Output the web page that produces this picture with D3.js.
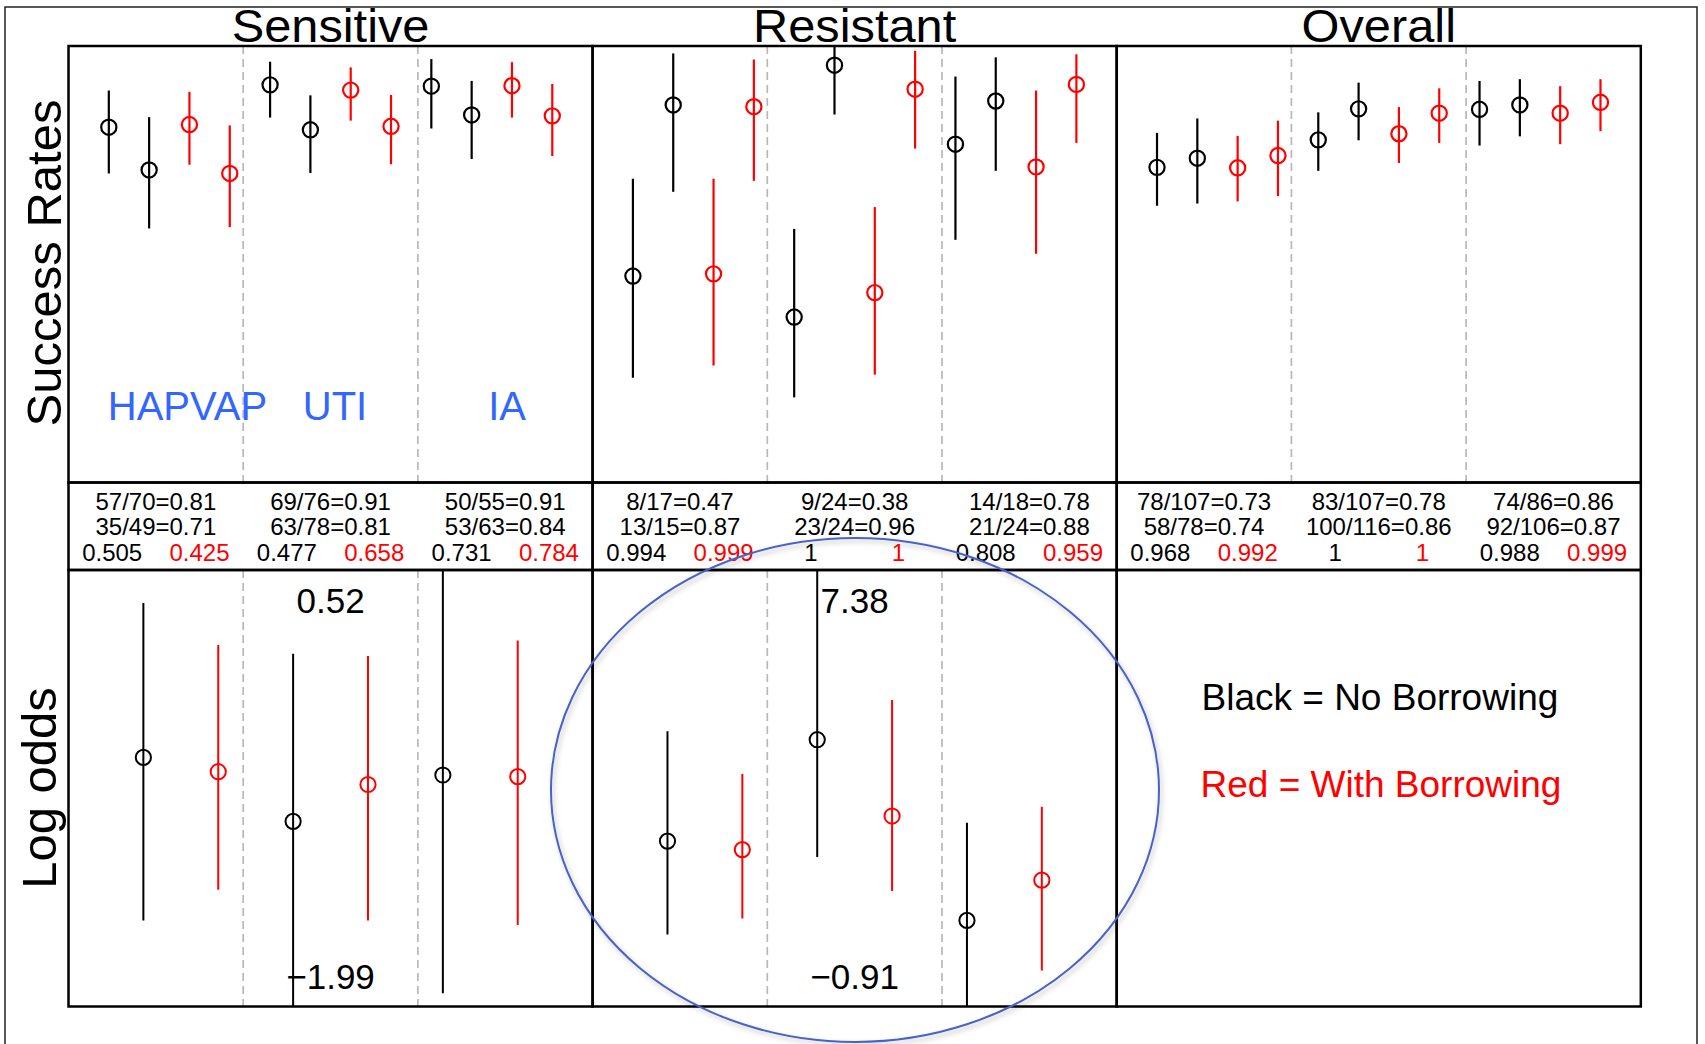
<!DOCTYPE html>
<html>
<head>
<meta charset="utf-8">
<script src="https://cdn.jsdelivr.net/npm/d3@7"></script>
<style>
  html, body { margin: 0; padding: 0; background: #fff; }
  svg { display: block; font-family: "Liberation Sans", Arial, Helvetica, sans-serif; }
</style>
</head>
<body>
<svg id="chart" width="1705" height="1044"></svg>
<script>
// ---------------- DATA ----------------
const categories = ["Sensitive", "Resistant", "Overall"];
const subgroups = ["HAPVAP", "UTI", "IA"];
// point order inside each subgroup: no borrowing (2 studies), with borrowing (2 studies)
const seriesPattern = ["No Borrowing", "No Borrowing", "With Borrowing", "With Borrowing"];

// Success rates (top row), 12 points per category
const sensRate = [0.814, 0.716, 0.820, 0.708, 0.911, 0.808, 0.899, 0.816, 0.908, 0.842, 0.909, 0.840];
const sensLo   = [0.708, 0.582, 0.728, 0.585, 0.836, 0.709, 0.829, 0.729, 0.811, 0.741, 0.836, 0.748];
const sensHi   = [0.898, 0.837, 0.895, 0.818, 0.964, 0.887, 0.951, 0.888, 0.970, 0.920, 0.963, 0.913];

const resRate = [0.473, 0.865, 0.478, 0.861, 0.379, 0.956, 0.435, 0.901, 0.775, 0.874, 0.723, 0.912];
const resLo   = [0.240, 0.666, 0.268, 0.691, 0.195, 0.843, 0.247, 0.765, 0.556, 0.714, 0.524, 0.778];
const resHi   = [0.696, 0.983, 0.696, 0.969, 0.581, 0.998, 0.631, 0.989, 0.930, 0.974, 0.898, 0.981];

const ovRate = [0.722, 0.743, 0.721, 0.749, 0.785, 0.856, 0.799, 0.846, 0.855, 0.865, 0.846, 0.871];
const ovLo   = [0.634, 0.639, 0.644, 0.656, 0.714, 0.784, 0.732, 0.778, 0.772, 0.793, 0.775, 0.805];
const ovHi   = [0.801, 0.834, 0.794, 0.829, 0.848, 0.916, 0.860, 0.903, 0.920, 0.924, 0.908, 0.924];

// Table text
const sensRow1 = ["57/70=0.81", "69/76=0.91", "50/55=0.91"];
const sensRow2 = ["35/49=0.71", "63/78=0.81", "53/63=0.84"];
const sensProbBlack = ["0.505", "0.477", "0.731"];
const sensProbRed   = ["0.425", "0.658", "0.784"];
const resRow1 = ["8/17=0.47", "9/24=0.38", "14/18=0.78"];
const resRow2 = ["13/15=0.87", "23/24=0.96", "21/24=0.88"];
const resProbBlack = ["0.994", "1", "0.808"];
const resProbRed   = ["0.999", "1", "0.959"];
const ovRow1 = ["78/107=0.73", "83/107=0.78", "74/86=0.86"];
const ovRow2 = ["58/78=0.74", "100/116=0.86", "92/106=0.87"];
const ovProbBlack = ["0.968", "1", "0.988"];
const ovProbRed   = ["0.992", "1", "0.999"];

// Log odds (bottom row): black = no borrowing, red = with borrowing, per subgroup
const sensLogBlack   = [-0.56, -0.85, -0.64];
const sensLogBlackLo = [-1.30, -1.99, -1.63];
const sensLogBlackHi = [0.14, -0.09, 0.52];
const sensLogRed     = [-0.625, -0.683, -0.647];
const sensLogRedLo   = [-1.16, -1.30, -1.32];
const sensLogRedHi   = [-0.05, -0.10, -0.03];
const sensLogRange   = [-1.69, 0.29];

const resLogBlack   = [1.99, 3.65, 0.69];
const resLogBlackLo = [0.46, 1.73, -0.91];
const resLogBlackHi = [3.79, 7.38, 2.29];
const resLogRed     = [1.85, 2.40, 1.35];
const resLogRedLo   = [0.72, 1.17, -0.13];
const resLogRedHi   = [3.09, 4.30, 2.55];
const resLogRange   = [-0.72, 6.43];

const legendLabels = ["Black = No Borrowing", "Red = With Borrowing"];
const yLabels = ["Success Rates", "Log odds"];

// ---------------- LAYOUT ----------------
const colLeft = 68.5, colW = 524.1;
const topY0 = 46, topY1 = 482.5, tabY1 = 570, botY1 = 1006.5;
const FONT = '"Liberation Sans", Arial, Helvetica, sans-serif';
const colorOf = s => s === "No Borrowing" ? "#000000" : "#ff0000";

const rates = [
  {est: sensRate, lo: sensLo, hi: sensHi},
  {est: resRate, lo: resLo, hi: resHi},
  {est: ovRate, lo: ovLo, hi: ovHi}
];
const table = [
  {r1: sensRow1, r2: sensRow2, pb: sensProbBlack, pr: sensProbRed},
  {r1: resRow1, r2: resRow2, pb: resProbBlack, pr: resProbRed},
  {r1: ovRow1, r2: ovRow2, pb: ovProbBlack, pr: ovProbRed}
];
const logs = [
  {b: sensLogBlack, bl: sensLogBlackLo, bh: sensLogBlackHi, r: sensLogRed, rl: sensLogRedLo, rh: sensLogRedHi, range: sensLogRange},
  {b: resLogBlack, bl: resLogBlackLo, bh: resLogBlackHi, r: resLogRed, rl: resLogRedLo, rh: resLogRedHi, range: resLogRange}
];

const svg = d3.select("#chart");
const defs = svg.append("defs");
const shadow = defs.append("filter").attr("id", "shadow").attr("x", "-10%").attr("y", "-10%").attr("width", "120%").attr("height", "120%");
shadow.append("feDropShadow").attr("dx", 2).attr("dy", 3).attr("stdDeviation", 2.5)
  .attr("flood-color", "#000").attr("flood-opacity", 0.25);

// outer frame
svg.append("path")
  .attr("d", "M5,1044 V7 H1697 V1044")
  .attr("fill", "none").attr("stroke", "#222").attr("stroke-width", 1.5);

categories.forEach((cat, c) => {
  const x0 = colLeft + c * colW, x1 = x0 + colW;
  const g = svg.append("g");

  // ---- top: success rates ----
  const xTop = d3.scaleLinear().domain([0, 13]).range([x0, x1]);
  const yTop = d3.scaleLinear().domain([0, 1]).range([topY1, topY0]);
  const nTop = 13;
  [nTop / 3, 2 * nTop / 3].forEach(v => {
    g.append("line")
      .attr("x1", xTop(v)).attr("x2", xTop(v))
      .attr("y1", topY0).attr("y2", topY1)
      .attr("stroke", "#b8b8b8").attr("stroke-width", 1.7).attr("stroke-dasharray", "8,5");
  });
  const rd = rates[c];
  const pts = rd.est.map((e, i) => ({x: i + 1, est: e, lo: rd.lo[i], hi: rd.hi[i], s: seriesPattern[i % 4]}));
  g.selectAll(".ciT").data(pts).enter().append("line")
    .attr("x1", d => xTop(d.x)).attr("x2", d => xTop(d.x))
    .attr("y1", d => yTop(d.lo)).attr("y2", d => yTop(d.hi))
    .attr("stroke", d => colorOf(d.s)).attr("stroke-width", 2.2);
  g.selectAll(".ptT").data(pts).enter().append("circle")
    .attr("cx", d => xTop(d.x)).attr("cy", d => yTop(d.est)).attr("r", 7.6)
    .attr("fill", "none").attr("stroke", d => colorOf(d.s)).attr("stroke-width", 2.2);

  // title (slightly widened glyphs, kept inside the canvas)
  svg.append("text")
    .attr("transform", `translate(${(x0 + x1) / 2},42) scale(1.06,1)`)
    .attr("text-anchor", "middle").attr("font-size", 46).attr("font-family", FONT)
    .attr("fill", "#000").text(cat);

  // ---- table ----
  const subW = colW / 3;
  const tb = table[c];
  subgroups.forEach((sg, k) => {
    const sx = x0 + k * subW;
    const addT = (txt, x, y, col) => g.append("text").attr("x", x).attr("y", y)
      .attr("text-anchor", "middle").attr("font-size", 24).attr("font-family", FONT)
      .attr("fill", col).text(txt);
    addT(tb.r1[k], sx + subW / 2, 509.5, "#000");
    addT(tb.r2[k], sx + subW / 2, 535.2, "#000");
    addT(tb.pb[k], sx + subW * 0.25, 560.8, "#000");
    addT(tb.pr[k], sx + subW * 0.75, 560.8, "#ff0000");
  });

  // ---- bottom: log odds ----
  if (c < 2) {
    const ld = logs[c];
    const xBot = d3.scaleLinear().domain([0, 7]).range([x0, x1]);
    const yBot = d3.scaleLinear().domain(ld.range).range([botY1, tabY1]);
    const clipId = "clip" + c;
    defs.append("clipPath").attr("id", clipId).append("rect")
      .attr("x", x0).attr("y", tabY1).attr("width", colW).attr("height", botY1 - tabY1);
    const gb = g.append("g").attr("clip-path", `url(#${clipId})`);
    [7 / 3, 14 / 3].forEach(v => {
      gb.append("line")
        .attr("x1", xBot(v)).attr("x2", xBot(v))
        .attr("y1", tabY1).attr("y2", botY1)
        .attr("stroke", "#b8b8b8").attr("stroke-width", 1.7).attr("stroke-dasharray", "8,5");
    });
    const lp = [];
    subgroups.forEach((sg, k) => {
      lp.push({x: 2 * k + 1, est: ld.b[k], lo: ld.bl[k], hi: ld.bh[k], s: "No Borrowing"});
      lp.push({x: 2 * k + 2, est: ld.r[k], lo: ld.rl[k], hi: ld.rh[k], s: "With Borrowing"});
    });
    gb.selectAll(".ciB").data(lp).enter().append("line")
      .attr("x1", d => xBot(d.x)).attr("x2", d => xBot(d.x))
      .attr("y1", d => yBot(d.lo)).attr("y2", d => yBot(d.hi))
      .attr("stroke", d => colorOf(d.s)).attr("stroke-width", 2);
    gb.selectAll(".ptB").data(lp).enter().append("circle")
      .attr("cx", d => xBot(d.x)).attr("cy", d => yBot(d.est)).attr("r", 7.6)
      .attr("fill", "none").attr("stroke", d => colorOf(d.s)).attr("stroke-width", 2);
    // labels for clipped extremes
    const maxHi = d3.max(lp, d => d.hi), minLo = d3.min(lp, d => d.lo);
    const fmt = v => (v < 0 ? "\u2212" : "") + Math.abs(v).toFixed(2);
    g.append("text").attr("x", (x0 + x1) / 2).attr("y", 612.5)
      .attr("text-anchor", "middle").attr("font-size", 35).attr("font-family", FONT)
      .attr("fill", "#000").text(fmt(maxHi));
    g.append("text").attr("x", (x0 + x1) / 2).attr("y", 988.5)
      .attr("text-anchor", "middle").attr("font-size", 35).attr("font-family", FONT)
      .attr("fill", "#000").text(fmt(minLo));
  }

  // ---- borders ----
  [[topY0, topY1], [topY1, tabY1], [tabY1, botY1]].forEach(([ya, yb]) => {
    g.append("rect").attr("x", x0).attr("y", ya).attr("width", colW).attr("height", yb - ya)
      .attr("fill", "none").attr("stroke", "#000").attr("stroke-width", 2.5);
  });

  // subgroup labels in the Sensitive success-rate panel
  if (c === 0) {
    const labX = [2.95, 6.61, 10.88];
    subgroups.forEach((sg, k) => {
      g.append("text").attr("x", xTop(labX[k])).attr("y", yTop(0.143))
        .attr("text-anchor", "middle").attr("font-size", 40).attr("font-family", FONT)
        .attr("fill", "#3366ff").text(sg);
    });
  }
});

// y labels
svg.append("text").attr("transform", "translate(61,263) rotate(-90)")
  .attr("text-anchor", "middle").attr("font-size", 49).attr("font-family", FONT)
  .attr("fill", "#000").text(yLabels[0]);
svg.append("text").attr("transform", "translate(55.5,788) rotate(-90)")
  .attr("text-anchor", "middle").attr("font-size", 49).attr("font-family", FONT)
  .attr("fill", "#000").text(yLabels[1]);

// legend text in the empty Overall log-odds panel
svg.append("text").attr("x", 1201.5).attr("y", 710).attr("font-size", 37).attr("font-family", FONT)
  .attr("fill", "#000").text(legendLabels[0]);
svg.append("text").attr("x", 1200.5).attr("y", 797).attr("font-size", 37).attr("font-family", FONT)
  .attr("fill", "#ff0000").text(legendLabels[1]);

// highlight ellipse around the Resistant log-odds panel
svg.append("ellipse").attr("cx", 855).attr("cy", 790).attr("rx", 304).attr("ry", 252)
  .attr("fill", "none").attr("stroke", "#4a62c8").attr("stroke-width", 2)
  .attr("filter", "url(#shadow)");
</script>
</body>
</html>
